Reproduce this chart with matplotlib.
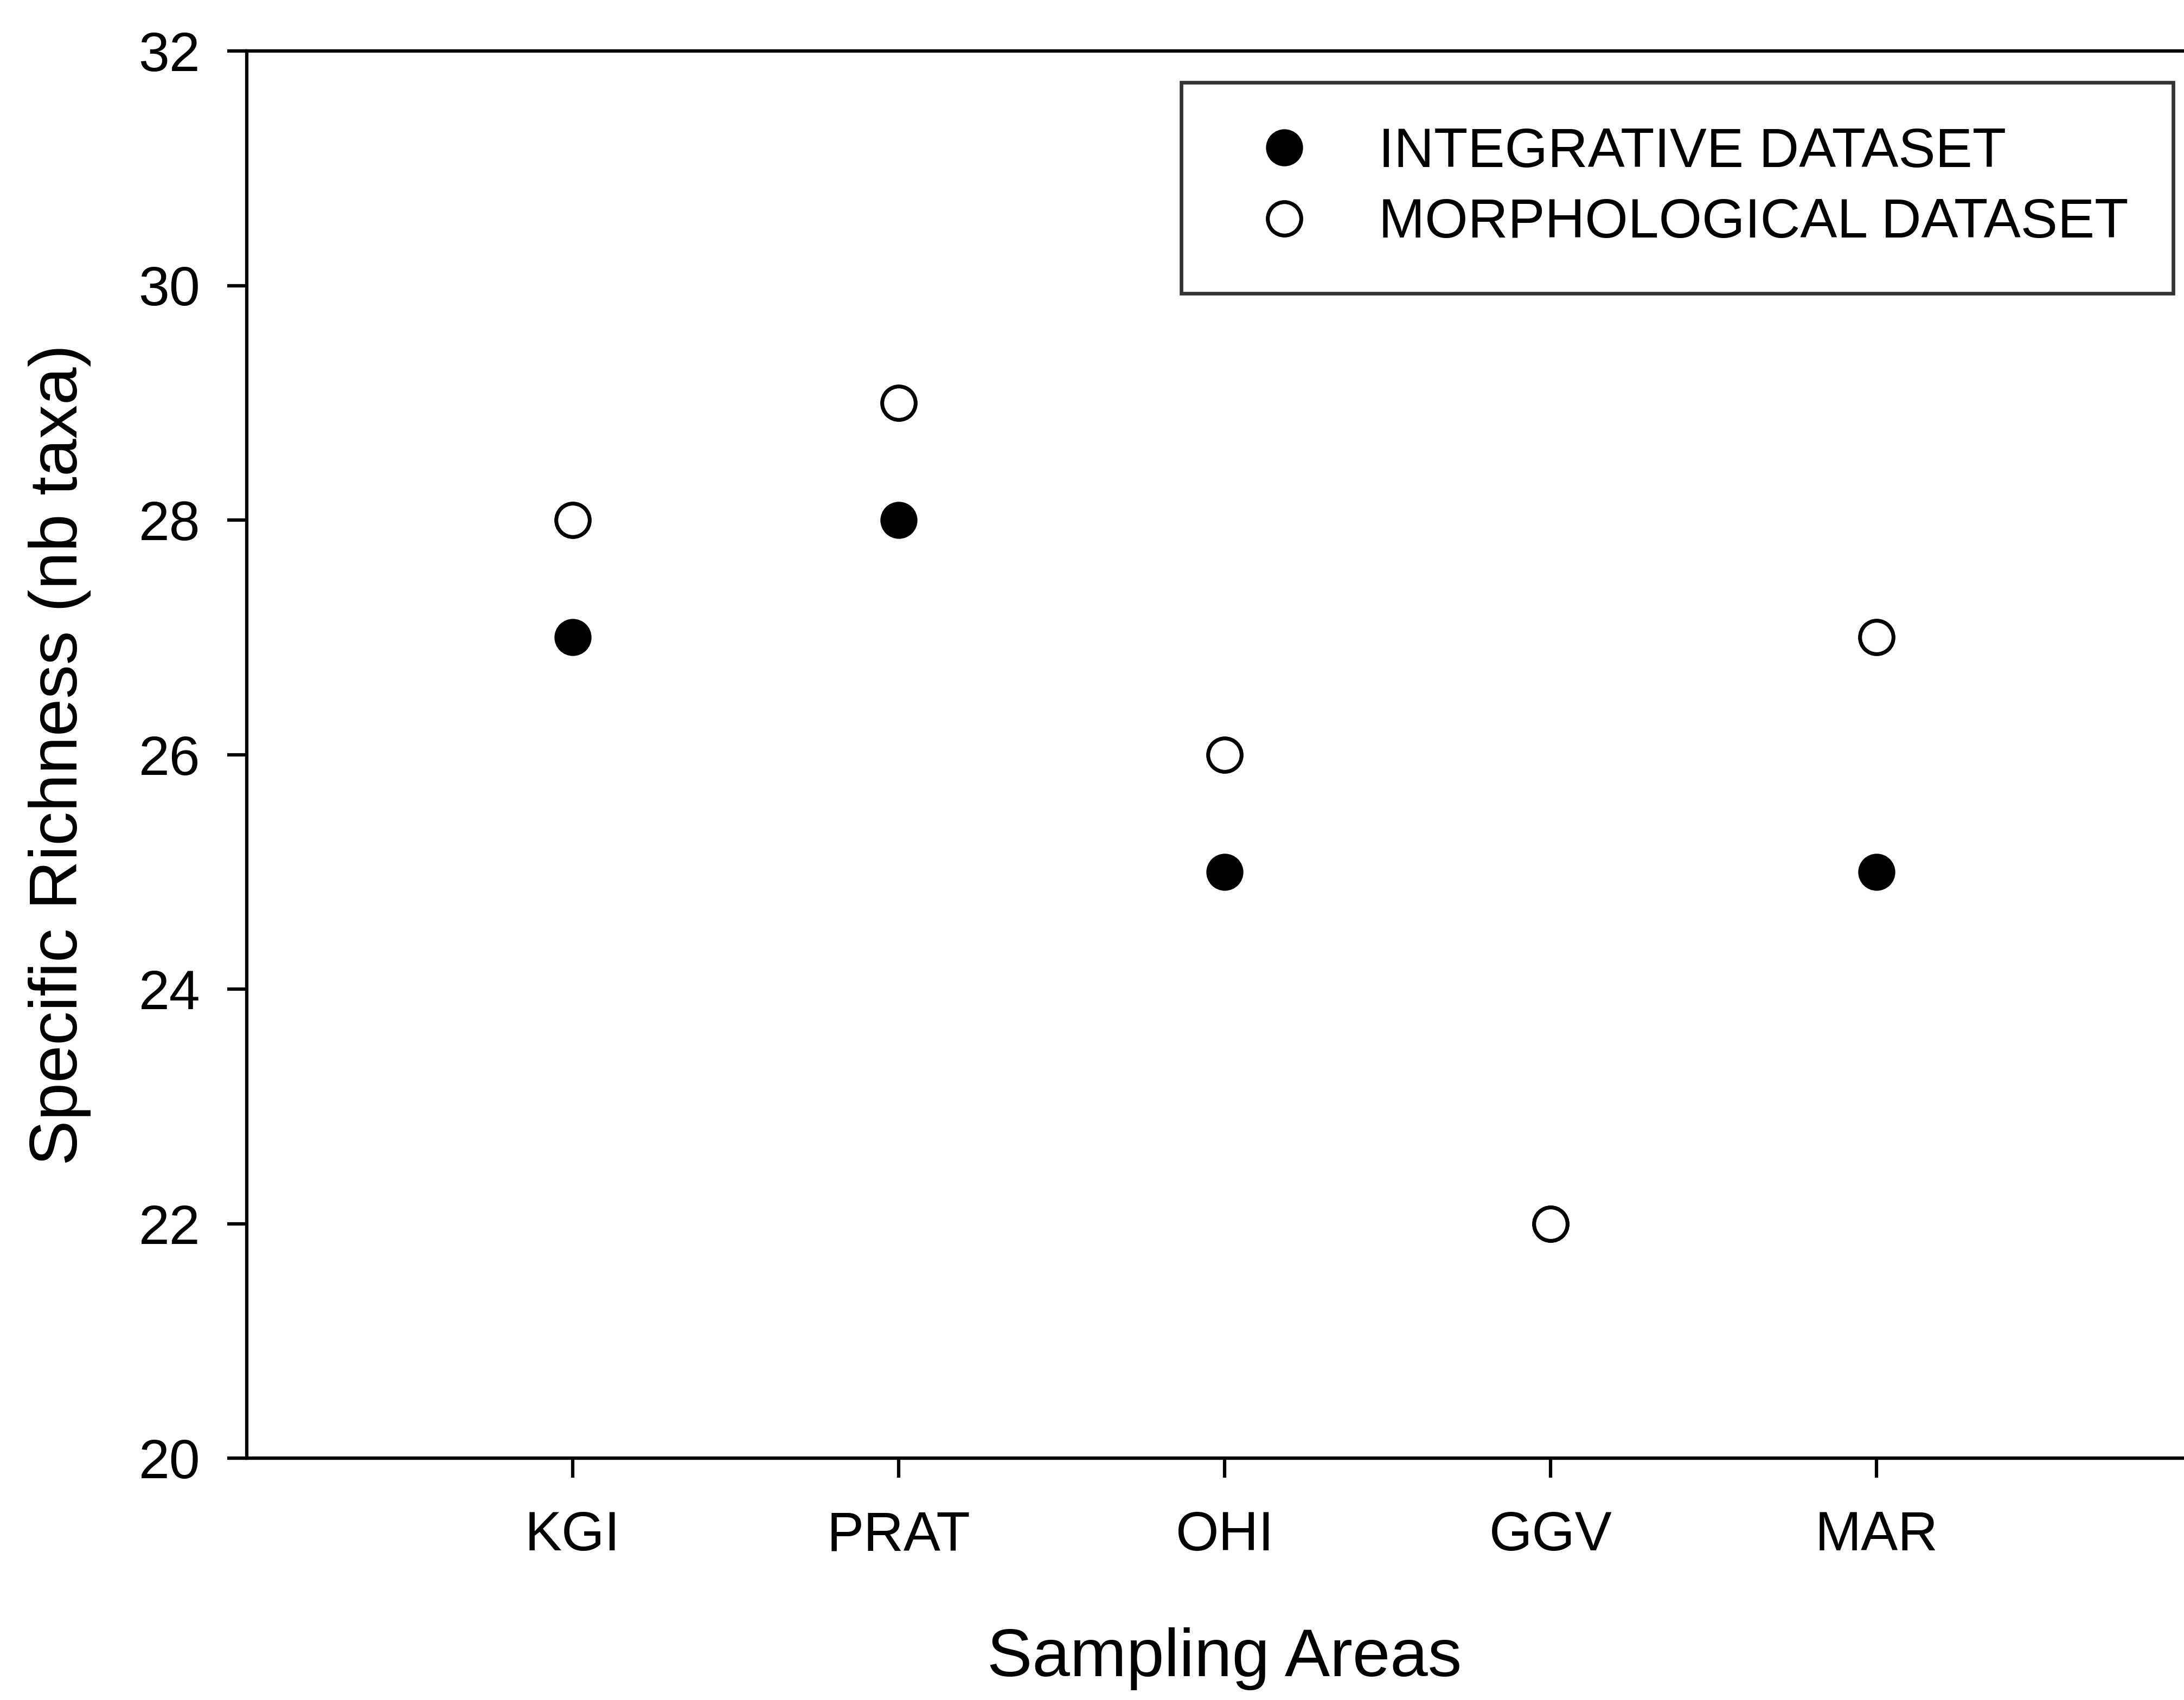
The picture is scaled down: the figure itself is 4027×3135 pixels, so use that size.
import matplotlib
matplotlib.use("Agg")
import matplotlib.pyplot as plt
from matplotlib.lines import Line2D

areas = ["KGI", "PRAT", "OHI", "GGV", "MAR"]
integrative = [27, 28, 25, 22, 25]
morphological = [28, 29, 26, 22, 27]
yticks = [20, 22, 24, 26, 28, 30, 32]

plt.rcParams['font.family'] = ['Liberation Sans', 'DejaVu Sans']

dpi = 300
fig = plt.figure(figsize=(4028 / dpi, 3135 / dpi), dpi=dpi)
ax = fig.add_axes([455 / 4028, 1 - 2689 / 3135, 3606 / 4028, (2689 - 94) / 3135])

filled_style = dict(linestyle='none', marker='o', markersize=15.9,
                    markerfacecolor='black', markeredgecolor='black', markeredgewidth=0.5)
open_style = dict(linestyle='none', marker='o', markersize=14.8,
                  markerfacecolor='white', markeredgecolor='black', markeredgewidth=1.7)

x = list(range(1, len(areas) + 1))
ax.plot(x, integrative, label='INTEGRATIVE DATASET', zorder=3, **filled_style)
ax.plot(x, morphological, label='MORPHOLOGICAL DATASET', zorder=4, **open_style)

ax.set_xlim(0, 6)
ax.set_ylim(20, 32)
ax.set_xticks(x)
ax.set_xticklabels(areas)
ax.set_yticks(yticks)
ax.set_yticklabels([str(t) for t in yticks])

for side in ['left', 'bottom', 'top']:
    ax.spines[side].set_linewidth(1.5)
ax.spines['right'].set_visible(False)

ax.tick_params(axis='both', which='major', direction='out', length=8.6, width=1.5,
               labelsize=24.5, color='black')
ax.tick_params(axis='x', pad=14.5)
ax.tick_params(axis='y', pad=12)

ax.set_xlabel('Sampling Areas', fontsize=30, labelpad=29)
ax.set_ylabel('Specific Richness (nb taxa)', fontsize=30, labelpad=21)

handles = [Line2D([], [], **filled_style), Line2D([], [], **open_style)]
leg = ax.legend(handles, ['INTEGRATIVE DATASET', 'MORPHOLOGICAL DATASET'],
                loc='upper left', bbox_to_anchor=((2178 - 455) / 3606, 1 - (152 - 94) / 2595),
                fontsize=24.5, frameon=True, fancybox=False, borderpad=0.8,
                handletextpad=0.65, labelspacing=0.35, borderaxespad=0,
                handlelength=2.12)
leg.get_frame().set_edgecolor('black')
leg.get_frame().set_linewidth(1.6)

fig.savefig('out.png', dpi=dpi, facecolor='white')
